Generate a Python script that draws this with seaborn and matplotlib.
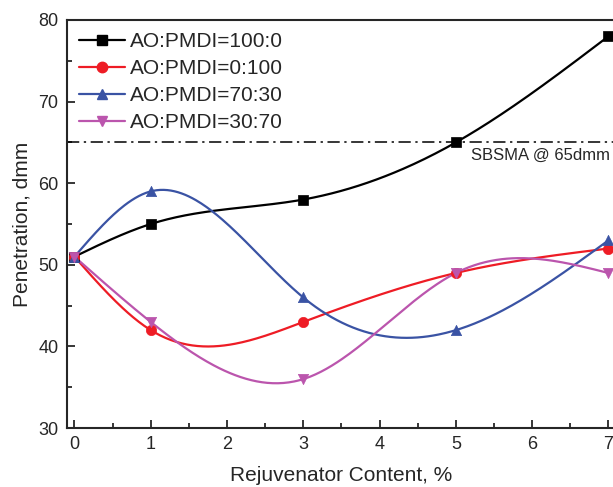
import numpy as np
import pandas as pd
import seaborn as sns
import matplotlib.pyplot as plt
from matplotlib.lines import Line2D
from matplotlib.ticker import MultipleLocator

# data
content = [0, 1, 3, 5, 7]
pen_100_0 = [51, 55, 58, 65, 78]
pen_0_100 = [51, 42, 43, 49, 52]
pen_70_30 = [51, 59, 46, 42, 53]
pen_30_70 = [51, 43, 36, 49, 49]
labels = ['AO:PMDI=100:0', 'AO:PMDI=0:100', 'AO:PMDI=70:30', 'AO:PMDI=30:70']
colors = ['black', '#ee1c25', '#3a53a4', '#bb55ad']
markers = ['s', 'o', '^', 'v']
sbsma = 65


def spline(x, y, n=300):
    # natural cubic spline through the points, like Origin's spline connector
    x = np.asarray(x, float)
    y = np.asarray(y, float)
    k = len(x)
    h = np.diff(x)
    A = np.zeros((k, k))
    b = np.zeros(k)
    A[0, 0] = A[-1, -1] = 1
    for i in range(1, k - 1):
        A[i, i - 1] = h[i - 1]
        A[i, i] = 2 * (h[i - 1] + h[i])
        A[i, i + 1] = h[i]
        b[i] = 6 * ((y[i + 1] - y[i]) / h[i] - (y[i] - y[i - 1]) / h[i - 1])
    M = np.linalg.solve(A, b)
    xs = np.linspace(x[0], x[-1], n)
    idx = np.clip(np.searchsorted(x, xs) - 1, 0, k - 2)
    x0, x1 = x[idx], x[idx + 1]
    hh = x1 - x0
    ys = (M[idx] * (x1 - xs) ** 3 / (6 * hh) + M[idx + 1] * (xs - x0) ** 3 / (6 * hh)
          + (y[idx] / hh - M[idx] * hh / 6) * (x1 - xs)
          + (y[idx + 1] / hh - M[idx + 1] * hh / 6) * (xs - x0))
    return xs, ys


sns.set_style('ticks')
plt.rcParams['font.family'] = ['Liberation Sans', 'DejaVu Sans']

fig = plt.figure(figsize=(6.13, 4.87), dpi=100)
ax = fig.add_axes([0.109, 0.121, 0.896, 0.838])

series = [pen_100_0, pen_0_100, pen_70_30, pen_30_70]
for yv, c, m in zip(series, colors, markers):
    xs, ys = spline(content, yv)
    sns.lineplot(x=xs, y=ys, color=c, lw=1.6, ax=ax, legend=False)
    sns.scatterplot(x=content, y=yv, color=c, marker=m, s=55, edgecolor=c,
                    linewidth=0.5, ax=ax, legend=False, zorder=3)

ax.axhline(sbsma, color='black', lw=1.1, ls=(0, (8, 3, 1.5, 3)))
ax.text(5.2, 64.3, 'SBSMA @ 65dmm', fontsize=12, va='top', ha='left')

ax.set_xlim(-0.1, 7.1)
ax.set_ylim(30, 80)
ax.xaxis.set_major_locator(MultipleLocator(1))
ax.xaxis.set_minor_locator(MultipleLocator(0.5))
ax.yaxis.set_major_locator(MultipleLocator(10))
ax.yaxis.set_minor_locator(MultipleLocator(5))
ax.tick_params(which='both', direction='in', width=1.3, labelsize=13,
               top=False, right=False)
ax.tick_params(which='major', length=6, pad=6)
ax.tick_params(which='minor', length=3.5)
for sp in ax.spines.values():
    sp.set_linewidth(1.5)
    sp.set_visible(True)

ax.set_xlabel('Rejuvenator Content, %', fontsize=15, labelpad=9)
ax.set_ylabel('Penetration, dmm', fontsize=15, labelpad=5)

handles = [Line2D([], [], color=c, marker=m, markersize=7.5, lw=1.6)
           for c, m in zip(colors, markers)]
ax.legend(handles, labels, loc='upper left', frameon=False, fontsize=15,
          handlelength=2.2, handletextpad=0.25, labelspacing=0.38,
          borderaxespad=0.2, bbox_to_anchor=(0.0, 1.0))

fig.savefig('out.png', dpi=100)
